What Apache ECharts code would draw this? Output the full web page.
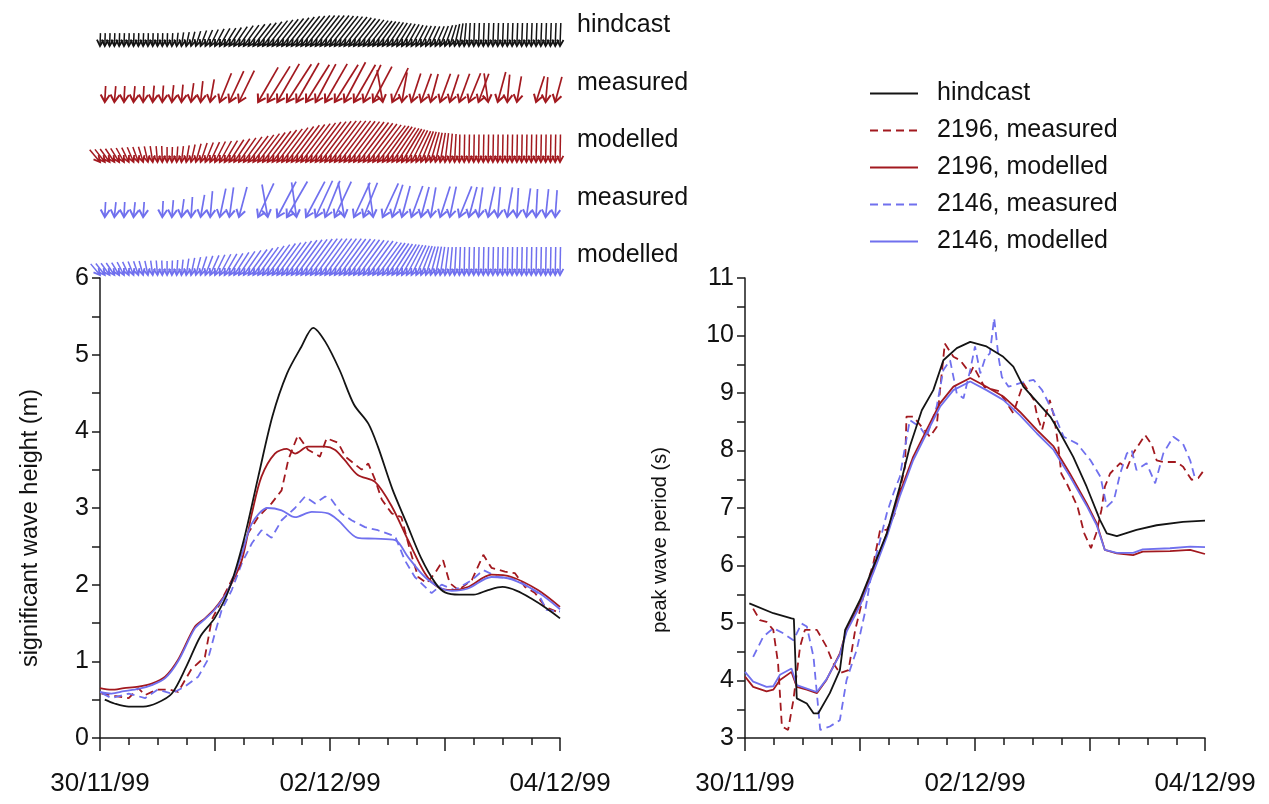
<!DOCTYPE html>
<html><head><meta charset="utf-8">
<script src="https://cdn.jsdelivr.net/npm/echarts@6/dist/echarts.min.js"></script>
<style>html,body{margin:0;padding:0;background:#fff}#c{width:1269px;height:804px}</style>
</head><body><div id="c"></div>
<script>
// ---------------- time axis ----------------
const dateLabelHours = [0, 48, 96];
const dateLabels = ['30/11/99', '02/12/99', '04/12/99'];

// ---------------- significant wave height (m) ----------------
const hsHindT = [1,3,6,9,12,15,18,21,24,27,30,33,36,39,42,44.5,47,50,53,56,58,61,64,67,70,72,75,78,81,84,87,90,93,96];
const hsHind  = [0.50,0.45,0.41,0.41,0.46,0.58,0.93,1.33,1.57,1.95,2.58,3.40,4.20,4.75,5.10,5.35,5.17,4.80,4.35,4.10,3.80,3.25,2.80,2.35,2.02,1.90,1.87,1.87,1.93,1.97,1.92,1.82,1.70,1.56];

const hsRedModT = [0,2.4,5,8,10.8,13.6,16.3,19.8,21.9,24,26.7,29.6,31.7,33.7,36.5,39,40.7,43.4,47,49,51,53.8,57.4,60.9,64.3,67.8,70.5,73.4,76.8,81.7,85.9,91.4,96];
const hsRedMod  = [0.65,0.63,0.65,0.67,0.71,0.80,1.02,1.45,1.56,1.69,1.93,2.32,2.93,3.41,3.71,3.77,3.71,3.80,3.80,3.76,3.63,3.43,3.34,3.02,2.58,2.15,1.97,1.93,1.97,2.13,2.10,1.93,1.71];

const hsBlueModT = [0,2.4,5,8,10.8,13.6,16.3,19.8,21.9,24,26.7,29.6,31.7,35,37.9,40.7,44.2,47.6,49.7,53.8,57.4,61.6,64.3,67.8,71.3,73.4,76.8,81.7,85.9,91.4,96];
const hsBlueMod  = [0.60,0.58,0.61,0.64,0.69,0.78,1.00,1.43,1.55,1.68,1.92,2.40,2.80,3.00,2.97,2.88,2.95,2.93,2.84,2.61,2.60,2.58,2.36,2.10,1.95,1.92,1.95,2.10,2.07,1.90,1.68];

const hsRedMeasT = [0.3,3,6,8,9.4,11.8,14.6,16.3,19,21.9,23.3,25.4,28.2,30.9,33,35.8,37.9,39.3,41.3,43.4,45.9,47.3,49.7,51.2,54.6,56,57.4,58.8,60.9,62.9,64.7,66.4,68.2,69.9,71.6,73,74.8,77.6,80,81.7,84.5,86.6,88.7,90.8,92.9,96];
const hsRedMeas  = [0.58,0.55,0.52,0.65,0.56,0.63,0.63,0.60,0.89,1.06,1.54,1.80,2.15,2.67,2.88,3.06,3.23,3.63,3.95,3.76,3.67,3.91,3.85,3.67,3.50,3.58,3.37,3.11,2.93,2.88,2.45,2.10,2.02,2.15,2.32,2.02,1.93,2.06,2.39,2.22,2.17,2.15,1.97,1.89,1.71,1.63];

const hsBlueMeasT = [0.5,2.4,6,9.4,12,15,17.7,20.5,22.5,24,25.4,27.5,29.6,31.7,33.7,35.8,37.9,40.7,42.8,44.9,47,48.3,50.4,52.5,55.3,58,61.6,63.6,65.7,69.2,71.3,74,77.6,80,83,85.9,88.7,91.4,93.2,96];
const hsBlueMeas  = [0.58,0.52,0.58,0.52,0.63,0.58,0.67,0.80,1.02,1.37,1.67,1.93,2.28,2.54,2.71,2.61,2.84,3.00,3.15,3.06,3.15,3.11,2.93,2.84,2.75,2.71,2.63,2.32,2.10,1.89,2.00,1.93,2.06,2.19,2.10,2.08,2.00,1.89,1.67,1.65];

// ---------------- peak wave period (s) ----------------
const tpHindT = [0.9,5.9,9.7,10.2,10.8,12.9,14.3,15.3,17.7,19.8,20.9,24,26.8,29.6,32.3,34.4,36.9,39.3,41.4,44.2,47,50.4,53.9,56,58.1,60.9,63.7,65.8,68.5,71.3,74.1,75.5,77.6,81.7,85.9,91.4,96];
const tpHind  = [5.34,5.17,5.08,5.07,3.69,3.60,3.43,3.43,3.78,4.18,4.88,5.40,5.98,6.56,7.37,8.07,8.70,9.05,9.57,9.78,9.89,9.81,9.63,9.46,9.11,8.85,8.59,8.30,7.89,7.37,6.79,6.56,6.51,6.62,6.70,6.76,6.78];

const tpModT = [0,1.7,4.5,5.9,7.3,9.7,10.8,12.9,15,17,19.8,21.2,24,26.8,29.6,32.3,35.1,37.9,40.7,43.5,47,50.4,53.9,57.4,60.9,64.4,67.8,71.3,73.4,75.1,77.6,81,83,88.7,92.9,96];
const tpRedMod  = [4.07,3.89,3.81,3.84,4.01,4.15,3.89,3.84,3.78,4.01,4.47,4.88,5.34,5.92,6.56,7.26,7.89,8.36,8.82,9.11,9.26,9.11,8.94,8.67,8.36,8.07,7.60,7.08,6.73,6.27,6.21,6.18,6.24,6.25,6.27,6.20];
const tpBlueMod = [4.15,3.98,3.89,3.90,4.10,4.21,3.92,3.86,3.80,4.02,4.45,4.85,5.30,5.88,6.50,7.20,7.83,8.30,8.76,9.05,9.20,9.05,8.88,8.61,8.30,8.01,7.55,7.04,6.70,6.27,6.22,6.22,6.28,6.30,6.33,6.32];

const tpRedMeasT = [1.7,3.1,4.5,5.9,6.9,7.7,9,10.1,11.5,12.5,15,17,18.4,19.8,21.6,23,24.7,26.8,28.2,29.6,31.3,32,33.4,33.7,35.1,36.9,38.6,40,40.7,41.7,43.5,44.9,47,47.7,50,53,56,58.1,60.3,61,62,63.6,64.5,65.4,66,67.3,69.4,70.8,72.2,73.3,74.4,75.1,76.2,78.3,79.7,81,83.5,84.9,85.9,87.3,90.1,91.4,93.2,94.6,95.8];
const tpRedMeas  = [5.25,5.05,5.02,4.88,4.30,3.20,3.14,3.66,4.59,4.88,4.88,4.59,4.30,4.13,4.18,4.88,5.46,6.04,6.62,6.62,6.91,7.20,7.72,8.59,8.59,8.41,8.24,8.41,9.05,9.86,9.63,9.57,9.34,9.46,9.10,9.03,8.65,9.17,8.88,8.59,8.36,8.88,8.59,8.07,7.60,7.40,7.02,6.56,6.30,6.56,6.97,7.37,7.60,7.78,7.69,7.95,8.27,8.10,7.83,7.80,7.80,7.72,7.49,7.52,7.66];

const tpBlueMeasT = [1.7,3.8,5.9,8,10.1,11.8,12.9,14.3,15.7,17.7,19.8,21.2,23.3,25,26.4,28.2,29.6,31,32.3,34.4,36.5,37.9,40,41.4,42.8,44.2,45.6,47,48,49.1,50.1,51.1,52,52.9,53.6,55,57.4,60.2,62,64.4,66.5,69.3,72.1,74.2,75.5,77,78.3,79.7,80.7,81.7,83.8,85.6,87.3,89.4,91.4,92.9,94];
const tpBlueMeas  = [4.41,4.76,4.91,4.82,4.70,4.99,4.94,4.41,3.14,3.20,3.31,4.01,4.53,5.17,5.86,6.44,6.91,7.26,7.54,8.53,8.41,8.24,8.76,9.40,9.57,8.99,8.91,9.40,9.81,9.34,9.60,9.69,10.30,9.63,9.28,9.11,9.17,9.23,9.05,8.65,8.24,8.12,7.83,7.54,7.02,7.14,7.60,7.95,8.01,7.66,7.78,7.43,7.95,8.24,8.12,7.83,7.49];

// ---------------- direction vectors (hourly for hindcast/modelled, 2-hourly for measured) ----------------
// dir: degrees the stick leans from vertical (+ = top to the right), len: vector magnitude
const hindDir = [2,2,2,2,2,2,2,2,2,2,2,2,2,2,2,4,6,9,12,15,18,21,24,26,28,30,32,33,34,35,36,37,38,38,38,38,38,38,38,38,38,38,38,38,38,38,38,38,38,38,38,38,38,38,38,38,38,37,36,35,34,33,32,31,30,29,28,27,26,25,24,22,20,17,13,9,5,3,2,2,2,2,2,2,2,2,2,2,2,2,2,2,2,2,2,2,2];
const hindLen = [2.8,2.8,2.8,2.8,2.8,2.8,2.8,2.8,2.8,2.8,2.8,2.8,2.8,2.8,2.8,2.8,2.9,3.0,3.1,3.2,3.4,3.6,3.8,4.0,4.2,4.4,4.6,4.8,5.1,5.4,5.6,5.9,6.2,6.4,6.7,7.0,7.2,7.4,7.6,7.8,8.0,8.2,8.3,8.4,8.4,8.4,8.4,8.4,8.3,8.2,8.1,8.0,7.8,7.6,7.4,7.2,7.0,6.8,6.6,6.4,6.2,6.0,5.8,5.6,5.4,5.2,5.0,4.9,4.8,4.7,4.7,4.7,4.8,4.8,4.9,5.0,5.0,5.0,5.0,5.0,5.0,5.0,5.0,5.0,5.0,5.0,5.0,5.0,5.0,5.0,5.0,5.0,5.0,5.0,5.0,5.0,5.0];

const redModDir = [-40,-38,-36,-34,-32,-29,-26,-23,-20,-17,-13,-9,-5,-2,0,2,4,7,10,13,16,19,22,25,27,29,31,33,34,35,36,37,37,37,37,37,37,37,37,37,37,37,37,37,37,37,37,37,37,37,37,37,37,37,37,37,37,37,37,36,35,34,33,31,29,27,25,22,19,16,13,10,7,5,3,1,1,1,1,1,1,1,1,1,1,1,1,1,1,1,1,1,1,1,1,1,1];
const redModLen = [3.2,3.2,3.2,3.2,3.2,3.2,3.2,3.2,3.2,3.2,3.2,3.2,3.2,3.2,3.0,3.0,3.1,3.2,3.4,3.6,3.8,4.0,4.2,4.4,4.6,4.8,5.0,5.3,5.6,5.9,6.2,6.5,6.8,7.1,7.4,7.7,8.0,8.3,8.6,8.9,9.2,9.4,9.6,9.8,10.0,10.1,10.2,10.3,10.3,10.3,10.3,10.2,10.1,10.0,9.9,9.7,9.5,9.3,9.1,8.9,8.6,8.3,8.0,7.7,7.4,7.1,6.8,6.6,6.4,6.2,6.0,5.9,5.8,5.7,5.6,5.5,5.5,5.5,5.5,5.5,5.5,5.5,5.5,5.5,5.5,5.5,5.5,5.5,5.5,5.5,5.5,5.5,5.5,5.5,5.5,5.5,5.5];

const blueModDir = [-40,-38,-36,-34,-31,-28,-25,-22,-19,-16,-12,-8,-5,-2,0,2,4,6,9,12,15,18,21,24,26,28,30,32,33,34,35,36,36,36,36,36,36,36,36,36,36,36,36,36,36,36,36,36,36,36,36,36,36,36,36,36,36,36,36,35,34,33,32,30,28,26,24,21,18,15,12,9,7,5,3,2,1,1,1,1,1,1,1,1,1,1,1,1,1,1,1,1,1,1,1,1,1];
const blueModLen = [2.9,2.9,2.9,2.9,2.9,2.9,2.9,2.9,2.9,2.9,2.9,2.9,2.9,2.9,2.8,2.9,3.0,3.1,3.3,3.5,3.7,3.9,4.1,4.3,4.5,4.7,4.9,5.1,5.4,5.7,6.0,6.3,6.6,6.9,7.2,7.5,7.8,8.0,8.2,8.4,8.6,8.7,8.8,8.9,9.0,9.0,9.0,9.0,9.0,9.0,8.9,8.9,8.8,8.7,8.6,8.5,8.4,8.2,8.0,7.8,7.6,7.4,7.2,7.0,6.8,6.6,6.4,6.2,6.0,5.9,5.8,5.7,5.6,5.6,5.6,5.6,5.6,5.6,5.6,5.6,5.6,5.6,5.6,5.6,5.6,5.6,5.6,5.6,5.6,5.6,5.6,5.6,5.6,5.6,5.6,5.6,5.6];

const redMeasDir = [3,5,3,5,3,5,4,6,5,8,6,10,22,25,26,null,30,32,30,33,30,32,28,30,32,28,30,25,28,-10,25,10,18,20,15,20,18,20,22,20,-8,15,5,10,null,18,5,15];
const redMeasLen = [3.2,3.2,3.2,3.2,3.2,3.3,3.3,3.4,3.5,3.8,4.2,4.6,6.2,6.8,7.0,null,8.0,8.4,8.8,9.0,9.0,8.8,8.6,8.8,8.8,9.0,8.6,8.2,8.0,6.5,7.5,6.0,6.0,6.0,5.8,6.0,5.8,6.0,6.2,6.0,5.8,6.2,5.5,5.2,null,5.4,5.0,5.2];

const blueMeasDir = [3,6,3,6,4,null,3,5,8,4,10,5,12,8,15,null,25,-10,28,30,-8,28,25,22,25,-10,25,22,-8,25,18,15,20,15,10,18,12,22,15,8,12,5,10,3,8,3,6,4];
const blueMeasLen = [3.0,3.0,3.0,3.0,3.0,null,3.2,3.4,3.6,4.0,4.5,5.2,5.8,6.0,6.2,null,7.4,6.6,8.0,8.2,7.0,8.0,8.0,7.8,7.8,7.0,7.6,7.4,6.8,7.4,6.8,6.4,6.6,6.2,6.0,6.4,6.2,6.6,6.2,6.0,6.2,6.0,6.0,5.8,5.8,5.6,5.6,5.4];

const rowLabels = ['hindcast', 'measured', 'modelled', 'measured', 'modelled'];
const legendNames = ['hindcast', '2196, measured', '2196, modelled', '2146, measured', '2146, modelled'];

// ---------------- styling ----------------
const FONT = 'Liberation Sans, Arial, Helvetica, sans-serif';
const BLACK = '#141414', RED = '#a2191f', BLUE = '#7070ee';

const zip = (t, v) => t.map((x, i) => [x, v[i]]);
const hourly = (d, l) => d.map((v, i) => [i, v, l[i]]);
const twoHourly = (d, l) => d.map((v, i) => v == null ? null : [1 + 2 * i, v, l[i]]).filter(Boolean);

function arrowItem(color, headLen, headAng, width) {
  return function (params, api) {
    const t = api.value(0), dir = api.value(1), mag = api.value(2);
    const base = api.coord([t, 0]);
    const L = api.size([0, mag])[1];
    const a = dir * Math.PI / 180;
    const ux = Math.sin(a), uy = -Math.cos(a);
    const tail = [base[0] + L * ux, base[1] + L * uy];
    const h = headAng * Math.PI / 180;
    const w = s => [base[0] + headLen * (ux * Math.cos(s * h) - uy * Math.sin(s * h)),
                    base[1] + headLen * (ux * Math.sin(s * h) + uy * Math.cos(s * h))];
    return {
      type: 'group',
      children: [
        { type: 'line', shape: { x1: base[0], y1: base[1], x2: tail[0], y2: tail[1] }, style: { stroke: color, lineWidth: width } },
        { type: 'polyline', shape: { points: [w(1), base, w(-1)] }, style: { stroke: color, fill: null, lineWidth: width + 0.3 } }
      ]
    };
  };
}

const chart = echarts.init(document.getElementById('c'));

const rowBases = [46, 102, 162, 217, 275];
const panelGrids = [
  { left: 100, top: 278, width: 460, height: 460 },
  { left: 745, top: 278, width: 460, height: 460 }
];
const rowGrids = rowBases.map(b => ({ left: 100, width: 460, top: b - 50, height: 50 }));

const axisLineStyle = { color: '#1a1a1a', width: 1.5 };
function timeAxis(gi) {
  return {
    type: 'value', gridIndex: gi, min: 0, max: 96, interval: 24,
    axisLine: { lineStyle: axisLineStyle },
    axisTick: { show: true, length: 13, lineStyle: axisLineStyle },
    minorTick: { show: true, splitNumber: 4, length: 7, lineStyle: axisLineStyle },
    splitLine: { show: false },
    axisLabel: {
      margin: 33, fontSize: 26, fontFamily: FONT, color: '#111',
      formatter: v => { const k = dateLabelHours.indexOf(v); return k >= 0 ? dateLabels[k] : ''; }
    }
  };
}
function valAxis(gi, min, max, name, gap, nameSize, shift) {
  return {
    type: 'value', gridIndex: gi, min, max, interval: 1,
    name, nameLocation: 'middle', nameGap: gap,
    nameTextStyle: { fontSize: nameSize, fontFamily: FONT, color: '#111', padding: [0, shift * 2, 0, 0] },
    axisLine: { show: true, lineStyle: axisLineStyle },
    axisTick: { show: true, length: 8, lineStyle: axisLineStyle },
    minorTick: { show: true, splitNumber: 2, length: 8, lineStyle: axisLineStyle },
    splitLine: { show: false },
    axisLabel: { margin: 11, fontSize: 25, fontFamily: FONT, color: '#111' }
  };
}

const xAxes = [timeAxis(0), timeAxis(1)];
const yAxes = [valAxis(0, 0, 6, 'significant wave height (m)', 57, 23.5, 20), valAxis(1, 3, 11, 'peak wave period (s)', 75, 20, 32)];
rowGrids.forEach((g, i) => {
  xAxes.push({ type: 'value', gridIndex: 2 + i, min: 0, max: 96, show: false });
  yAxes.push({ type: 'value', gridIndex: 2 + i, min: 0, max: 10, show: false });
});

function lineSeries(name, gi, data, color, dashed, smooth) {
  return {
    name, type: 'line', xAxisIndex: gi, yAxisIndex: gi, data, symbol: 'none', smooth: smooth || false,
    lineStyle: { color, width: 1.8, type: dashed ? [8, 5] : 'solid' },
    itemStyle: { color }, animation: false, z: dashed ? 3 : 4
  };
}

const series = [
  lineSeries(legendNames[2], 0, zip(hsRedModT, hsRedMod), RED, false, 0.3),
  lineSeries(legendNames[4], 0, zip(hsBlueModT, hsBlueMod), BLUE, false, 0.3),
  lineSeries(legendNames[1], 0, zip(hsRedMeasT, hsRedMeas), RED, true),
  lineSeries(legendNames[3], 0, zip(hsBlueMeasT, hsBlueMeas), BLUE, true),
  lineSeries(legendNames[0], 0, zip(hsHindT, hsHind), BLACK, false, 0.3),
  lineSeries(legendNames[2], 1, zip(tpModT, tpRedMod), RED, false),
  lineSeries(legendNames[4], 1, zip(tpModT, tpBlueMod), BLUE, false),
  lineSeries(legendNames[1], 1, zip(tpRedMeasT, tpRedMeas), RED, true),
  lineSeries(legendNames[3], 1, zip(tpBlueMeasT, tpBlueMeas), BLUE, true),
  lineSeries(legendNames[0], 1, zip(tpHindT, tpHind), BLACK, false)
];

const arrowRows = [
  { data: hourly(hindDir, hindLen), color: BLACK, head: 7, ang: 28, width: 1.5 },
  { data: twoHourly(redMeasDir, redMeasLen), color: RED, head: 8.5, ang: 32, width: 1.7 },
  { data: hourly(redModDir, redModLen), color: RED, head: 7, ang: 28, width: 1.5 },
  { data: twoHourly(blueMeasDir, blueMeasLen), color: BLUE, head: 8.5, ang: 32, width: 1.7 },
  { data: hourly(blueModDir, blueModLen), color: BLUE, head: 7, ang: 28, width: 1.5 }
];
arrowRows.forEach((r, i) => {
  series.push({
    type: 'custom', xAxisIndex: 2 + i, yAxisIndex: 2 + i, data: r.data,
    encode: { x: 0, y: 2 }, renderItem: arrowItem(r.color, r.head, r.ang, r.width),
    animation: false, silent: true, clip: false
  });
});

const labelY = [25, 83, 140, 198, 255];
const graphic = rowLabels.map((t, i) => ({
  type: 'text', x: 577, y: labelY[i],
  style: { text: t, fontSize: 25, fontFamily: FONT, fill: '#111', verticalAlign: 'middle' }
}));

chart.setOption({
  animation: false,
  backgroundColor: '#fff',
  grid: panelGrids.concat(rowGrids),
  xAxis: xAxes,
  yAxis: yAxes,
  legend: {
    data: legendNames, orient: 'vertical', left: 864, top: 76,
    itemWidth: 48, itemHeight: 12, itemGap: 12,
    itemStyle: { opacity: 0 },
    textStyle: { fontSize: 25, fontFamily: FONT, color: '#111', padding: [0, 0, 0, 14] },
    selectedMode: false
  },
  graphic,
  series
});
</script></body></html>
